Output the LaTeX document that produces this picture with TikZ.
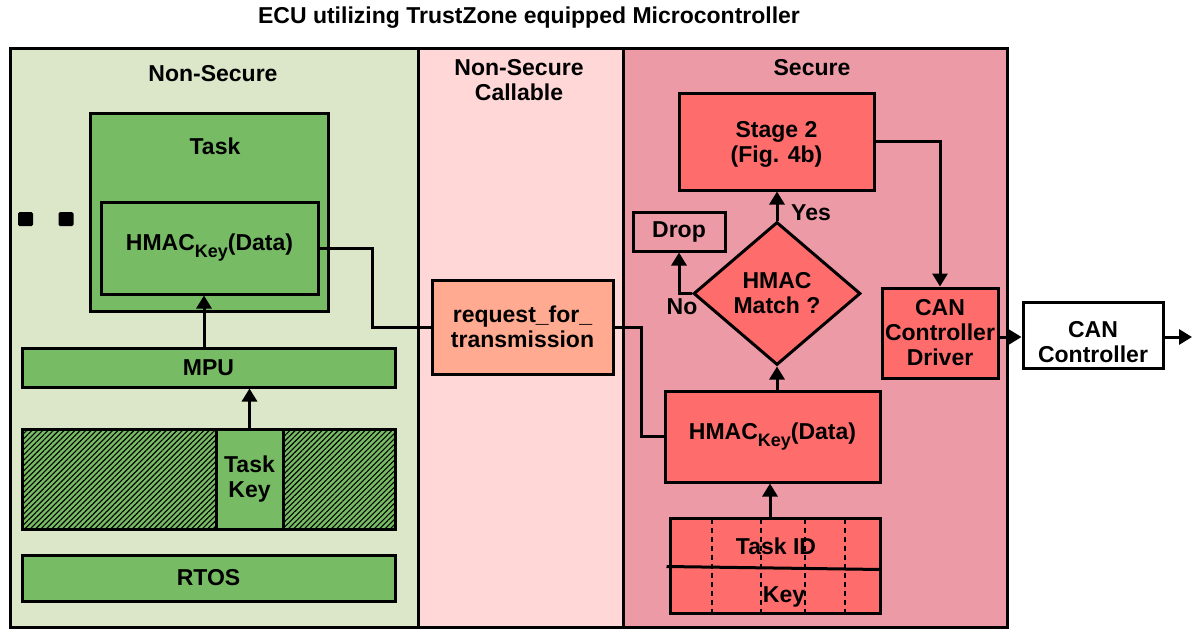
\documentclass[tikz,border=0pt]{standalone}
\usepackage{fontspec}
\setmainfont{Liberation Sans}
\usetikzlibrary{shapes.geometric,arrows.meta,patterns.meta,calc}
\definecolor{nsbg}{RGB}{220,230,200}
\definecolor{nscbg}{RGB}{255,215,215}
\definecolor{secbg}{RGB}{236,155,166}
\definecolor{grbox}{RGB}{119,188,100}
\definecolor{redbox}{RGB}{255,108,108}
\definecolor{reqbox}{RGB}{255,170,145}
\begin{document}
\begin{tikzpicture}[x=1pt,y=-1pt,
  every node/.style={font=\fontsize{23}{25}\selectfont\bfseries, align=center, inner sep=0pt},
  box/.style={draw, line width=3pt},
  conn/.style={line width=3pt},
  arr/.style={conn, -{Triangle[length=13pt,width=15pt]}},
  hatch/.style={box, fill=grbox, postaction={pattern={Lines[angle=45,distance=3.8pt,line width=1.1pt]}}},
  dsh/.style={line width=2pt, dash pattern=on 5pt off 4pt}
]
\useasboundingbox (0,0) rectangle (1193,629);
\newcommand\hmactext{HMAC\raisebox{-7pt}{\fontsize{18}{18}\selectfont Key}(Data)}

% title
\node (title) at (529,18) {ECU utilizing TrustZone equipped Microcontroller};

% regions
\node[box, fill=nsbg, minimum width=408pt, minimum height=579pt] (ns) at (214,337.5) {};
\node[box, fill=nscbg, minimum width=205pt, minimum height=579pt] (nsc) at (520.5,337.5) {};
\node[box, fill=secbg, minimum width=384pt, minimum height=579pt] (sec) at (815,337.5) {};
\node (nslab) at (213,74) {Non-Secure};
\node (nsclab) at (519,80) {Non-Secure\\Callable};
\node (seclab) at (812,68) {Secure};

% non-secure content
\node[box, fill=grbox, minimum width=238pt, minimum height=198pt] (task) at (209,212) {};
\node (tasklab) at (215,146) {Task};
\node[box, fill=grbox, minimum width=217pt, minimum height=92pt] (hns) at (209.5,248) {\hmactext};
\node[fill=black, minimum width=15pt, minimum height=14pt, rounded corners=1.5pt] (dot1) at (25.5,219) {};
\node[fill=black, minimum width=15pt, minimum height=14pt, rounded corners=1.5pt] (dot2) at (66,219) {};
\node[box, fill=grbox, minimum width=373pt, minimum height=39pt] (mpu) at (208.5,367.5) {MPU};
\node[hatch, minimum width=194pt, minimum height=100pt] (keyL) at (119,479) {};
\node[hatch, minimum width=112pt, minimum height=100pt] (keyR) at (339,479) {};
\node[box, fill=grbox, minimum width=67pt, minimum height=100pt] (keyM) at (249.5,479) {Task\\Key};
\node[box, fill=grbox, minimum width=373pt, minimum height=46pt] (rtos) at (208.5,578) {RTOS};

% NSC
\node[box, fill=reqbox, minimum width=181pt, minimum height=94pt] (req) at (522.5,327) {request\_for\_\\transmission};

% secure
\node[box, fill=redbox, minimum width=215pt, minimum height=91pt] (hs) at (772.5,436.5) {\hmactext};
\node[box, fill=redbox, diamond, aspect=1.17, minimum width=167pt, minimum height=143pt] (dia) at (777,293.5) {HMAC\\Match ?};
\node[box, fill=redbox, minimum width=195pt, minimum height=97pt] (stage) at (776.5,141.5) {\\[-4pt]Stage 2\\(Fig. 4b)};
\node[box, minimum width=92pt, minimum height=39pt] (drop) at (679,231.5) {Drop};
\node[box, fill=redbox, minimum width=116pt, minimum height=90pt] (drv) at (940,333) {CAN\\Controller\\Driver};
\node[box, fill=white, minimum width=140pt, minimum height=66pt,
      label={[name=canclab, yshift=-7pt]center:CAN\\Controller}] (canc) at (1093,335) {};
\node[box, fill=redbox, minimum width=210pt, minimum height=95pt] (tbl) at (775,565.5) {};
\draw[conn] ($(tbl.north west)+(-2,50)$) -- ($(tbl.north east)+(0,53)$);
\foreach \dx in {43,92,136,176} {
  \draw[dsh] ($(tbl.north west)+(\dx,2)$) -- ($(tbl.south west)+(\dx,-2)$);
}
\node (tid) at (776,546) {Task ID};
\node (tkey) at (784,597) {Key};
\node (yes) at (811,213) {Yes};
\node (no) at (682,307) {No};
\coordinate (out) at (1192,337);

% connectors
\draw[arr] ($(mpu.north)+(-4.5,0)$) -- ($(hns.south)+(-5.5,0)$);
\draw[arr] (keyM.north) -- (keyM.north |- mpu.south);
\draw[conn] (hns.east) -| ($(req.west)+(-58,0)$) -- (req.west);
\draw[conn] (req.east) -- ++(27,0) |- (hs.west);
\draw[arr] ($(tbl.north)+(-5,0)$) -- ($(hs.south)+(-2.5,0)$);
\draw[arr] (dia.south |- hs.north) -- (dia.south);
\draw[arr] (dia.north) -- (dia.north |- stage.south);
\draw[arr] (dia.west) -| (drop.south);
\draw[arr] (stage.east) -| (drv.north);
\draw[arr] ($(drv.east)+(0,4)$) -- ($(canc.west)+(0,2)$);
\draw[arr] ($(canc.east)+(0,2)$) -- (out);
\end{tikzpicture}
\end{document}
